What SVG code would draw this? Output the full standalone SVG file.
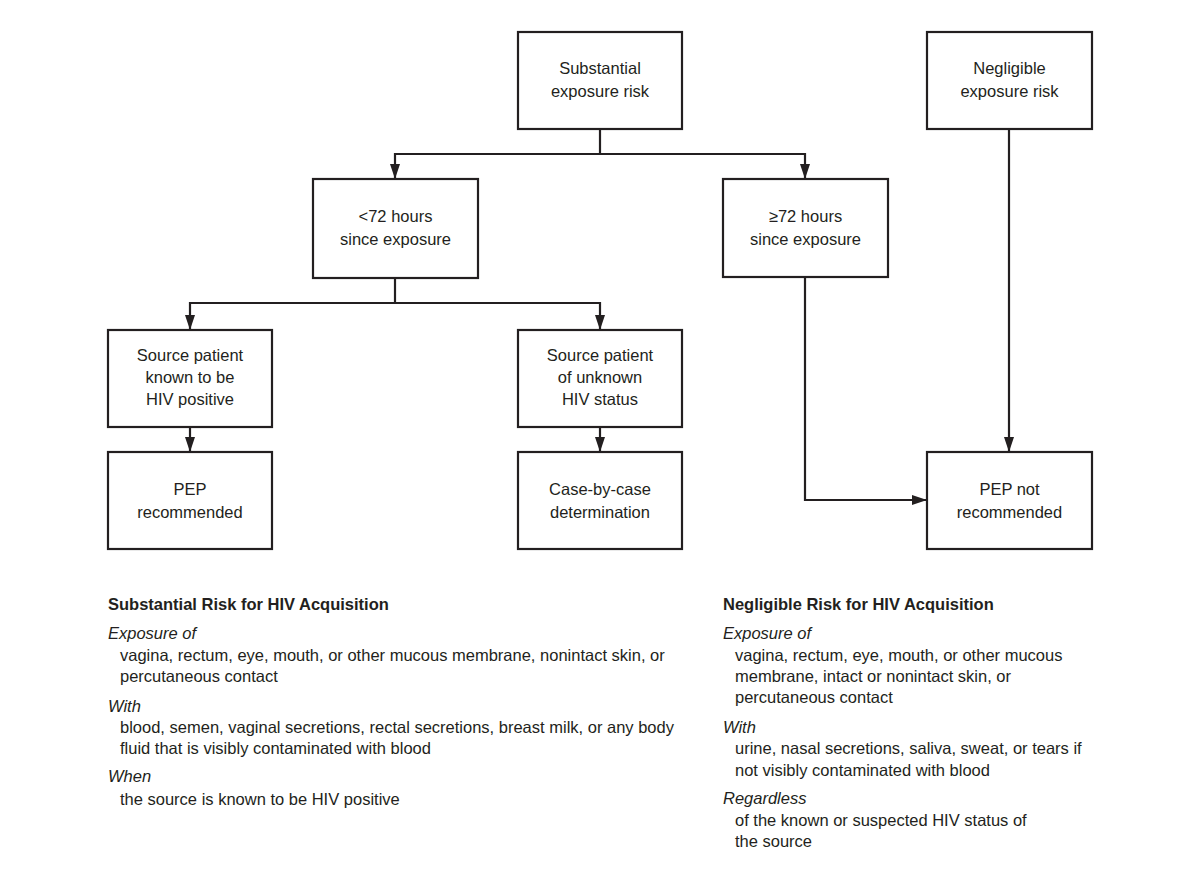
<svg xmlns="http://www.w3.org/2000/svg" width="1200" height="886" viewBox="0 0 1200 886">
<defs>
<style>
.box{fill:#fff;stroke:#231f20;stroke-width:2.2}
.t{font-family:"Liberation Sans",Arial,sans-serif;font-size:16.5px;fill:#231f20}
.c{text-anchor:middle}
.h{font-weight:bold}
.i{font-style:italic}
.ln{fill:none;stroke:#231f20;stroke-width:2.2}
</style>
<marker id="ah" viewBox="0 0 10 10" refX="10" refY="5" markerUnits="userSpaceOnUse" markerWidth="15" markerHeight="10" preserveAspectRatio="none" orient="auto">
<path d="M0,0 L10,5 L0,10 z" fill="#231f20"/>
</marker>
</defs>
<rect width="1200" height="886" fill="#fff"/>
<g id="connectors">
<path class="ln" d="M600,129 V154"/>
<path class="ln" d="M600,154 H395 V179" marker-end="url(#ah)"/>
<path class="ln" d="M600,154 H805 V179" marker-end="url(#ah)"/>
<path class="ln" d="M395,278 V303"/>
<path class="ln" d="M395,303 H190 V330" marker-end="url(#ah)"/>
<path class="ln" d="M395,303 H600 V330" marker-end="url(#ah)"/>
<path class="ln" d="M190,427 V452" marker-end="url(#ah)"/>
<path class="ln" d="M600,427 V452" marker-end="url(#ah)"/>
<path class="ln" d="M805,277 V500 H927" marker-end="url(#ah)"/>
<path class="ln" d="M1009,129 V452" marker-end="url(#ah)"/>
</g>
<g id="substantial">
<rect class="box" x="518" y="32" width="164" height="97"/>
<text class="t c" x="600" y="74">Substantial</text>
<text class="t c" x="600" y="97">exposure risk</text>
</g>
<g id="negligible">
<rect class="box" x="927" y="32" width="165" height="97"/>
<text class="t c" x="1009.5" y="74">Negligible</text>
<text class="t c" x="1009.5" y="97">exposure risk</text>
</g>
<g id="lt72">
<rect class="box" x="313" y="179" width="165" height="99"/>
<text class="t c" x="395.5" y="222">&lt;72 hours</text>
<text class="t c" x="395.5" y="245">since exposure</text>
</g>
<g id="ge72">
<rect class="box" x="723" y="179" width="165" height="98"/>
<text class="t c" x="805.5" y="222">≥72 hours</text>
<text class="t c" x="805.5" y="245">since exposure</text>
</g>
<g id="src-positive">
<rect class="box" x="108" y="330" width="164" height="97"/>
<text class="t c" x="190" y="361">Source patient</text>
<text class="t c" x="190" y="383">known to be</text>
<text class="t c" x="190" y="405">HIV positive</text>
</g>
<g id="src-unknown">
<rect class="box" x="518" y="330" width="164" height="97"/>
<text class="t c" x="600" y="361">Source patient</text>
<text class="t c" x="600" y="383">of unknown</text>
<text class="t c" x="600" y="405">HIV status</text>
</g>
<g id="pep-rec">
<rect class="box" x="108" y="452" width="164" height="97"/>
<text class="t c" x="190" y="495">PEP</text>
<text class="t c" x="190" y="518">recommended</text>
</g>
<g id="case">
<rect class="box" x="518" y="452" width="164" height="97"/>
<text class="t c" x="600" y="495">Case-by-case</text>
<text class="t c" x="600" y="518">determination</text>
</g>
<g id="pep-not">
<rect class="box" x="927" y="452" width="165" height="97"/>
<text class="t c" x="1009.5" y="495">PEP not</text>
<text class="t c" x="1009.5" y="518">recommended</text>
</g>
<g id="legend-substantial">
<text class="t h" x="108" y="610">Substantial Risk for HIV Acquisition</text>
<text class="t i" x="108" y="639">Exposure of</text>
<text class="t" x="120" y="661">vagina, rectum, eye, mouth, or other mucous membrane, nonintact skin, or</text>
<text class="t" x="120" y="682">percutaneous contact</text>
<text class="t i" x="108" y="712">With</text>
<text class="t" x="120" y="733">blood, semen, vaginal secretions, rectal secretions, breast milk, or any body</text>
<text class="t" x="120" y="754">fluid that is visibly contaminated with blood</text>
<text class="t i" x="108" y="782">When</text>
<text class="t" x="120" y="805">the source is known to be HIV positive</text>
</g>
<g id="legend-negligible">
<text class="t h" x="723" y="610">Negligible Risk for HIV Acquisition</text>
<text class="t i" x="723" y="639">Exposure of</text>
<text class="t" x="735" y="661">vagina, rectum, eye, mouth, or other mucous</text>
<text class="t" x="735" y="682">membrane, intact or nonintact skin, or</text>
<text class="t" x="735" y="703">percutaneous contact</text>
<text class="t i" x="723" y="733">With</text>
<text class="t" x="735" y="754">urine, nasal secretions, saliva, sweat, or tears if</text>
<text class="t" x="735" y="776">not visibly contaminated with blood</text>
<text class="t i" x="723" y="804">Regardless</text>
<text class="t" x="735" y="826">of the known or suspected HIV status of</text>
<text class="t" x="735" y="847">the source</text>
</g>
</svg>
